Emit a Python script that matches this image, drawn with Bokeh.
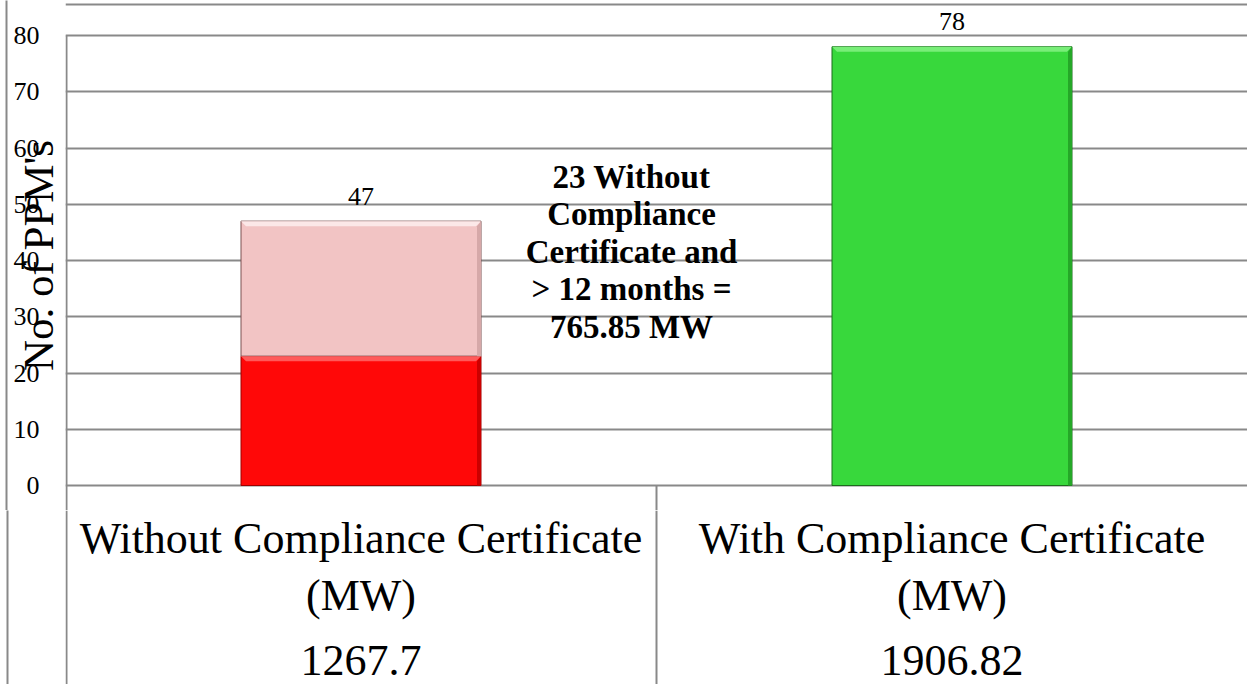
from bokeh.plotting import figure
from bokeh.layouts import column
from bokeh.models import Range1d, FactorRange, FixedTicker, LinearAxis, ColumnDataSource
from bokeh.core.properties import value
from bokeh.embed import file_html
from bokeh.resources import INLINE

# ---------------- data ----------------
categories = ["Without Compliance Certificate", "With Compliance Certificate"]
category_unit = ["(MW)", "(MW)"]
capacity_mw = ["1267.7", "1906.82"]
totals = [47, 78]
over_12_months = [23, 0]
y_ticks = [0, 10, 20, 30, 40, 50, 60, 70, 80]
y_title = "No. of PPM's"
note_lines = ["23 Without", "Compliance", "Certificate and", "> 12 months =", "765.85 MW"]

# ---------------- layout constants (pixels) ----------------
W = 1247
H_TOP, H_BOT = 510, 174
LEFT = 65                  # frame left edge
ZERO_PX, TOP_PX = 485, 35  # pixel rows of y=0 and y=80
PXU = (ZERO_PX - TOP_PX) / 80.0
CAT_W = (W - LEFT) / 2.0
BAR_W = 240 / CAT_W
SERIF = "Liberation Serif"
LC = "#898989"
BASE_SHIFT = 0.35          # svg text baseline correction (fraction of font size)


def dx(px):
    return px / CAT_W


def dy(px):
    return px / PXU


def X(px):
    return (px - LEFT) / CAT_W


def Y(py):
    return (ZERO_PX - py) / PXU


def spacer_axis(tick, width):
    # invisible axis that only reserves `width` pixels in the left border
    return LinearAxis(ticker=FixedTicker(ticks=[tick]), major_tick_out=width, major_tick_in=0,
                      minor_tick_out=0, minor_tick_in=0, major_tick_line_color=None,
                      minor_tick_line_color=None, axis_line_color=None,
                      major_label_text_color=None, major_label_standoff=0)


def outer_border_axis():
    return LinearAxis(ticker=FixedTicker(ticks=[]), major_label_standoff=0,
                      major_tick_out=0, major_tick_in=0, minor_tick_out=0, minor_tick_in=0,
                      axis_line_color=LC, axis_line_width=2)


x_range = FactorRange(factors=categories, range_padding=0)

# ================= top figure: the chart =================
pt = figure(width=W, height=H_TOP, x_range=x_range,
            y_range=Range1d(Y(H_TOP), Y(0)),
            output_backend="svg", toolbar_location=None, title=None,
            x_axis_location=None,
            min_border_left=LEFT, min_border_right=0, min_border_top=0, min_border_bottom=0)
pt.outline_line_color = None
pt.background_fill_color = "white"
pt.border_fill_color = "white"
pt.xgrid.visible = False
pt.ygrid.ticker = FixedTicker(ticks=y_ticks)
pt.ygrid.grid_line_color = LC
pt.ygrid.grid_line_width = 2

yax = pt.yaxis[0]
yax.ticker = FixedTicker(ticks=y_ticks)
yax.axis_line_color = None
yax.major_tick_line_color = None
yax.minor_tick_line_color = None
yax.major_tick_out = 0
yax.major_tick_in = 0
yax.minor_tick_out = 0
yax.minor_tick_in = 0
yax.major_label_standoff = 26
yax.major_label_text_font = SERIF
yax.major_label_text_font_size = "26px"
yax.major_label_text_color = "black"
yax.axis_label = y_title
yax.axis_label_standoff = -51
yax.axis_label_text_font = SERIF
yax.axis_label_text_font_size = "43px"
yax.axis_label_text_font_style = "normal"
yax.axis_label_text_color = "black"

pt.add_layout(spacer_axis(40, 5), "left")
pt.add_layout(outer_border_axis(), "left")

palette = {
    "red":   dict(fill="#FF0808", light="#FF5A5A", dark="#CC0000", edge="#9E0000"),
    "pink":  dict(fill="#F2C4C4", light="#FCE8E8", dark="#D6A8A8", edge="#7A5050"),
    "green": dict(fill="#38D83C", light="#78EE78", dark="#25A828", edge="#1D6B1D"),
}

segs = []
for i, c in enumerate(categories):
    if over_12_months[i] > 0:
        segs.append((i, 0, over_12_months[i], "red"))
    segs.append((i, over_12_months[i], totals[i], "pink" if i == 0 else "green"))

src = ColumnDataSource(dict(
    x=[categories[s[0]] for s in segs],
    bottom=[s[1] for s in segs],
    top=[s[2] for s in segs],
    fill=[palette[s[3]]["fill"] for s in segs],
    edge=[palette[s[3]]["edge"] for s in segs],
))
pt.vbar(x="x", bottom="bottom", top="top", width=BAR_W, source=src,
        fill_color="fill", line_color="edge", line_width=1)

# bevel highlights / shadows
bx, by, bc = [], [], []
for (i, b, t, key) in segs:
    cx = i + 0.5
    l, r = cx - BAR_W / 2, cx + BAR_W / 2
    h, d, s = dy(5), dx(5), dx(4)
    bx.append([l, r, r - d, l + d]); by.append([t, t, t - h, t - h]); bc.append(palette[key]["light"])
    bx.append([r, r, r - s, r - s]); by.append([t, b, b, t - h]); bc.append(palette[key]["dark"])
pt.patches(bx, by, fill_color=bc, line_color=None)

# value labels
pt.text(x=categories, y=totals, text=[str(t) for t in totals], y_offset=-16 - BASE_SHIFT * 26,
        text_align="center", text_baseline="alphabetic", text_font=value(SERIF),
        text_font_size=value("26px"), text_color="black")

# note
pt.text(x=[X(631)] * len(note_lines), y=[Y(188 + 37.5 * k) for k in range(len(note_lines))],
        text=note_lines, text_align="center", text_baseline="alphabetic",
        y_offset=-BASE_SHIFT * 33,
        text_font=value(SERIF), text_font_style="bold", text_font_size=value("33px"),
        text_color="black")

# border / table lines inside the chart frame
pt.segment(x0=[0, dx(1), 1], y0=[Y(4), 80, 0], x1=[2, dx(1), 1], y1=[Y(4), Y(H_TOP), Y(H_TOP)],
           line_color=LC, line_width=2)

# ================= bottom figure: category table =================
pb = figure(width=W, height=H_BOT, x_range=x_range,
            y_range=Range1d(H_TOP + H_BOT, H_TOP),
            output_backend="svg", toolbar_location=None, title=None,
            x_axis_location=None, y_axis_location=None,
            min_border_left=LEFT, min_border_right=0, min_border_top=0, min_border_bottom=0)
pb.outline_line_color = None
pb.background_fill_color = "white"
pb.border_fill_color = "white"
pb.xgrid.visible = False
pb.ygrid.visible = False

pb.add_layout(spacer_axis(600, 58), "left")
pb.add_layout(outer_border_axis(), "left")

rows_y = [553, 610, 675]
for texts, ry in ((categories, rows_y[0]), (category_unit, rows_y[1]), (capacity_mw, rows_y[2])):
    pb.text(x=categories, y=[ry] * len(categories), text=texts, text_align="center",
            text_baseline="alphabetic", y_offset=-BASE_SHIFT * 44,
            text_font=value(SERIF), text_font_size=value("44px"),
            text_color="black")

pb.segment(x0=[dx(1), 1], y0=[H_TOP, H_TOP], x1=[dx(1), 1], y1=[H_TOP + H_BOT, H_TOP + H_BOT],
           line_color=LC, line_width=2)

layout = column(pt, pb, spacing=0)
open("out.html", "w").write(file_html(layout, INLINE))
